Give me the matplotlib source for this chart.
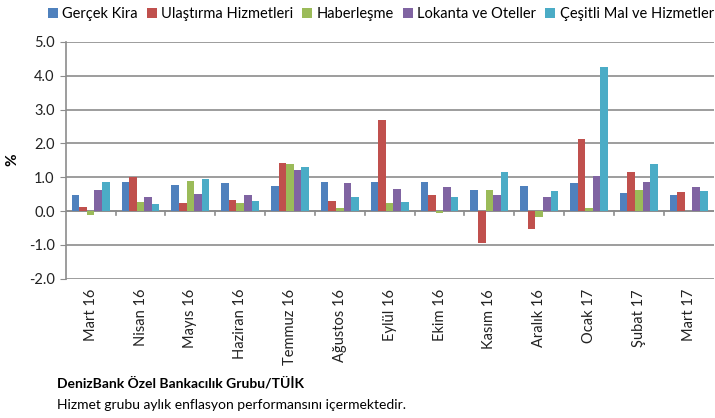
import matplotlib.pyplot as plt
import numpy as np

plt.rcParams['font.family'] = ['Lato', 'DejaVu Sans']

months = ['Mart 16', 'Nisan 16', 'Mayıs 16', 'Haziran 16', 'Temmuz 16', 'Ağustos 16',
          'Eylül 16', 'Ekim 16', 'Kasım 16', 'Aralık 16', 'Ocak 17', 'Şubat 17', 'Mart 17']

series_names = ['Gerçek Kira', 'Ulaştırma Hizmetleri', 'Haberleşme',
                'Lokanta ve Oteller', 'Çeşitli Mal ve Hizmetler']

gercek_kira = [0.48, 0.86, 0.78, 0.82, 0.73, 0.86, 0.86, 0.86, 0.62, 0.73, 0.84, 0.54, 0.48]
ulastirma = [0.12, 1.02, 0.25, 0.32, 1.43, 0.30, 2.70, 0.48, -0.95, -0.52, 2.14, 1.16, 0.57]
haberlesme = [-0.11, 0.27, 0.90, 0.24, 1.39, 0.10, 0.25, -0.07, 0.63, -0.16, 0.09, 0.63, 0.0]
lokanta = [0.63, 0.43, 0.51, 0.48, 1.22, 0.82, 0.65, 0.71, 0.48, 0.43, 1.04, 0.86, 0.71]
cesitli = [0.86, 0.22, 0.95, 0.29, 1.31, 0.43, 0.27, 0.41, 1.16, 0.59, 4.25, 1.39, 0.59]

colors = ['#4F81BD', '#C0504D', '#9BBB59', '#8064A2', '#4BACC6']
all_series = [gercek_kira, ulastirma, haberlesme, lokanta, cesitli]

fig = plt.figure(figsize=(7.15, 4.18), dpi=100)
ax = fig.add_axes([0.092, 0.333, 0.906, 0.567])

x = np.arange(len(months))
w = 0.152
for i, (vals, c, name) in enumerate(zip(all_series, colors, series_names)):
    ax.bar(x + (i - 2) * w, vals, w, color=c, label=name, zorder=3)

ax.set_xlim(-0.5, len(months) - 0.5)
ax.set_ylim(-2.0, 5.0)
ax.set_yticks(np.arange(-2, 5.1, 1))
ax.set_yticklabels(['%.1f' % v for v in np.arange(-2, 5.1, 1)], fontsize=10.5, color='#222222')
ax.yaxis.grid(True, color='#8c8c8c', linewidth=1.2, zorder=0)
ax.tick_params(axis='y', length=4, color='#8c8c8c', pad=4)

for s in ['top', 'right', 'bottom']:
    ax.spines[s].set_visible(False)
ax.spines['left'].set_color('#8c8c8c')
ax.spines['left'].set_linewidth(1.2)

# category axis at zero with tick marks between groups
ax.axhline(0, color='#8c8c8c', linewidth=1.2, zorder=2)
ax.set_xticks(x)
ax.set_xticklabels([])
ax.tick_params(axis='x', length=0)
for b in x[1:] - 0.5:
    ax.plot([b, b], [0, -0.12], color='#8c8c8c', linewidth=1.2, zorder=2)
for xi, m in zip(x, months):
    ax.text(xi, -2.3, m, rotation=90, ha='center', va='top', fontsize=10.5, color='#222222')

fig.text(0.017, 0.617, '%', fontsize=11, fontweight='bold', rotation=90, ha='center', va='center')

ax.legend(loc='upper left', bbox_to_anchor=(-0.037, 1.17), ncol=5, frameon=False,
          fontsize=10.5, handlelength=0.7, handleheight=0.7, handletextpad=0.3,
          columnspacing=0.6, borderaxespad=0)

fig.text(0.08, 0.072, 'DenizBank Özel Bankacılık Grubu/TÜİK', fontsize=10, fontweight='bold')
fig.text(0.08, 0.022, 'Hizmet grubu aylık enflasyon performansını içermektedir.', fontsize=10)

fig.savefig('out.png', dpi=100)
